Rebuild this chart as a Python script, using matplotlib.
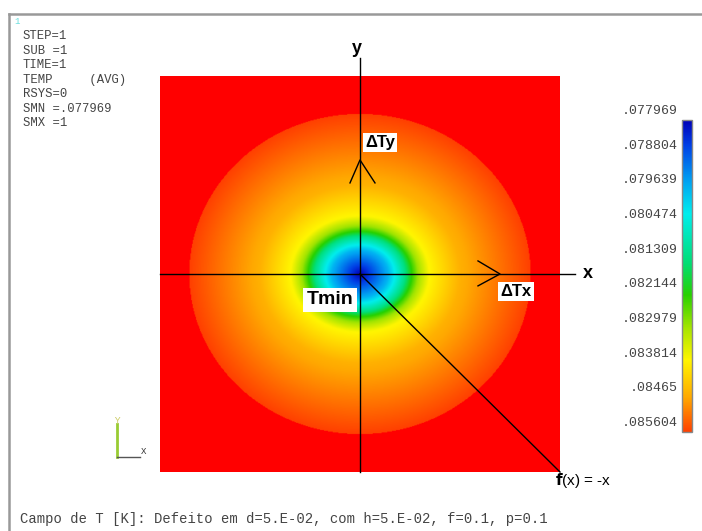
import numpy as np
import matplotlib
matplotlib.use("Agg")
import matplotlib.pyplot as plt
from matplotlib.colors import LinearSegmentedColormap, Normalize
from matplotlib.lines import Line2D

# ---------------- data ----------------
levels = [0.077969, 0.078804, 0.079639, 0.080474, 0.081309,
          0.082144, 0.082979, 0.083814, 0.08465, 0.085604]
level_labels = [".077969", ".078804", ".079639", ".080474", ".081309",
                ".082144", ".082979", ".083814", ".08465", ".085604"]
# semi-axes of each contour ellipse (plate half-width = 1)
semi_x = [0.0, 0.07, 0.14, 0.185, 0.225, 0.255, 0.29, 0.345, 0.50, 0.855]
semi_y = [0.0, 0.06, 0.12, 0.157, 0.19, 0.213, 0.243, 0.292, 0.45, 0.81]
smx = 1.0
info_lines = ["STEP=1", "SUB =1", "TIME=1", "TEMP     (AVG)", "RSYS=0",
              "SMN =.077969", "SMX =1"]
caption = "Campo de T [K]: Defeito em d=5.E-02, com h=5.E-02, f=0.1, p=0.1"

W, H = 702, 531
fig = plt.figure(figsize=(W / 100, H / 100), dpi=100)
fig.patch.set_facecolor("white")


def fx(x):
    return x / W


def fy(y):
    return 1 - y / H


# ---------------- field ----------------
n = 500
xs = np.linspace(-1, 1, n)
ys = np.linspace(-1, 1, n)
X, Y = np.meshgrid(xs, ys)
rho = np.hypot(X, Y)
th = np.arctan2(Y, X)
K = len(levels)
R = np.zeros((K,) + X.shape)
for k in range(1, K):
    a, b = semi_x[k], semi_y[k]
    R[k] = a * b / np.sqrt((b * np.cos(th)) ** 2 + (a * np.sin(th)) ** 2)
T = np.full(X.shape, smx)
for k in range(K - 1):
    m = (rho >= R[k]) & (rho < R[k + 1])
    T[m] = levels[k] + (rho[m] - R[k][m]) / (R[k + 1][m] - R[k][m]) * (levels[k + 1] - levels[k])

cols = [(0.0, (0.0, 0.0, 0.72)),
        (0.08, (0.0, 0.25, 0.90)),
        (0.2, (0.0, 0.65, 0.95)),
        (0.3, (0.0, 0.93, 0.93)),
        (0.46, (0.0, 0.87, 0.45)),
        (0.56, (0.15, 0.82, 0.0)),
        (0.67, (0.66, 0.90, 0.0)),
        (0.77, (1.0, 0.96, 0.0)),
        (0.89, (1.0, 0.66, 0.0)),
        (1.0, (1.0, 0.25, 0.0))]
cmap = LinearSegmentedColormap.from_list("ansys", cols, N=512)
cmap.set_over((1.0, 0.0, 0.0))
norm = Normalize(vmin=levels[0], vmax=levels[-1], clip=False)

ax = fig.add_axes([fx(160), fy(472), 400 / W, 396 / H])
im = ax.imshow(T, cmap=cmap, norm=norm, origin="lower", extent=[-1, 1, -1, 1],
               aspect="auto", interpolation="bilinear")
ax.set_xlim(-1, 1)
ax.set_ylim(-1, 1)
ax.set_axis_off()

# axes lines and annotations (data units: 1 = 200 px horizontally, 198 px vertically)
lk = dict(color="black", lw=1.0, clip_on=False)
ax.plot([-1.0, 1.075], [0, 0], **lk)
ax.plot([0, 0], [-1.0, 1.09], **lk)
ax.plot([0, 1.0], [0, -1.0], **lk)
ax.plot([-0.05, 0, 0.075], [0.46, 0.576, 0.46], **lk)
ax.plot([0.59, 0.70, 0.59], [0.066, 0, -0.06], **lk)

sans = "Liberation Sans"
ax.text(-0.015, 1.14, "y", fontsize=13, fontweight="bold", family=sans,
        ha="center", va="center", clip_on=False)
ax.text(1.14, 0.0, "x", fontsize=13, fontweight="bold", family=sans,
        ha="center", va="center", clip_on=False)
box = dict(facecolor="white", edgecolor="none", pad=1.5)
ax.text(0.10, 0.665, "ΔTy", fontsize=12, fontweight="bold", family=sans,
        ha="center", va="center", bbox=box)
ax.text(0.78, -0.088, "ΔTx", fontsize=12, fontweight="bold", family=sans,
        ha="center", va="center", bbox=box)
ax.text(-0.15, -0.13, "Tmin", fontsize=14, fontweight="bold", family=sans,
        ha="center", va="center", bbox=dict(facecolor="white", edgecolor="none", pad=2.5))
ax.text(0.975, -1.045, r"$\mathbf{f}$(x) = -x", fontsize=11, family=sans,
        ha="left", va="center", clip_on=False)

# ---------------- colorbar ----------------
cax = fig.add_axes([fx(682), fy(432), 10 / W, 312 / H])
cb = fig.colorbar(im, cax=cax)
cax.invert_yaxis()
cb.set_ticks([])
cb.outline.set_edgecolor("#888888")
cb.outline.set_linewidth(1.0)
mono = "Liberation Mono"
txtc = "#444444"
for i, lab in enumerate(level_labels):
    cax.text(-0.4, 1.029 - i / 9, lab, transform=cax.transAxes, ha="right",
             va="center", fontsize=9.5, family=mono, color=txtc)

# ---------------- frame & texts ----------------
fig.add_artist(Line2D([fx(9), fx(9)], [fy(14), fy(531)], color="#999999", lw=1.8))
fig.add_artist(Line2D([fx(9), fx(702)], [fy(14), fy(14)], color="#999999", lw=1.8))
fig.text(fx(17), fy(21), "1", color="#66dddd", fontsize=6.5, family=mono,
         ha="center", va="center")
for i, line in enumerate(info_lines):
    fig.text(fx(23), fy(36 + 14.5 * i), line, fontsize=8.8, family=mono,
             color=txtc, ha="left", va="center")
fig.text(fx(20), fy(519), caption, fontsize=10, family=mono, color=txtc,
         ha="left", va="center")

# coordinate triad
fig.add_artist(Line2D([fx(117), fx(117)], [fy(424), fy(457)], color="#99cc33", lw=2))
fig.add_artist(Line2D([fx(117), fx(140)], [fy(457), fy(457)], color="#555555", lw=1))
fig.text(fx(117), fy(421), "Y", fontsize=6.5, color="#cccc66", ha="center", va="center")
fig.text(fx(144), fy(451), "X", fontsize=6.5, color="#333333", ha="center", va="center",
         family=mono)

fig.savefig("out.png", dpi=100)
